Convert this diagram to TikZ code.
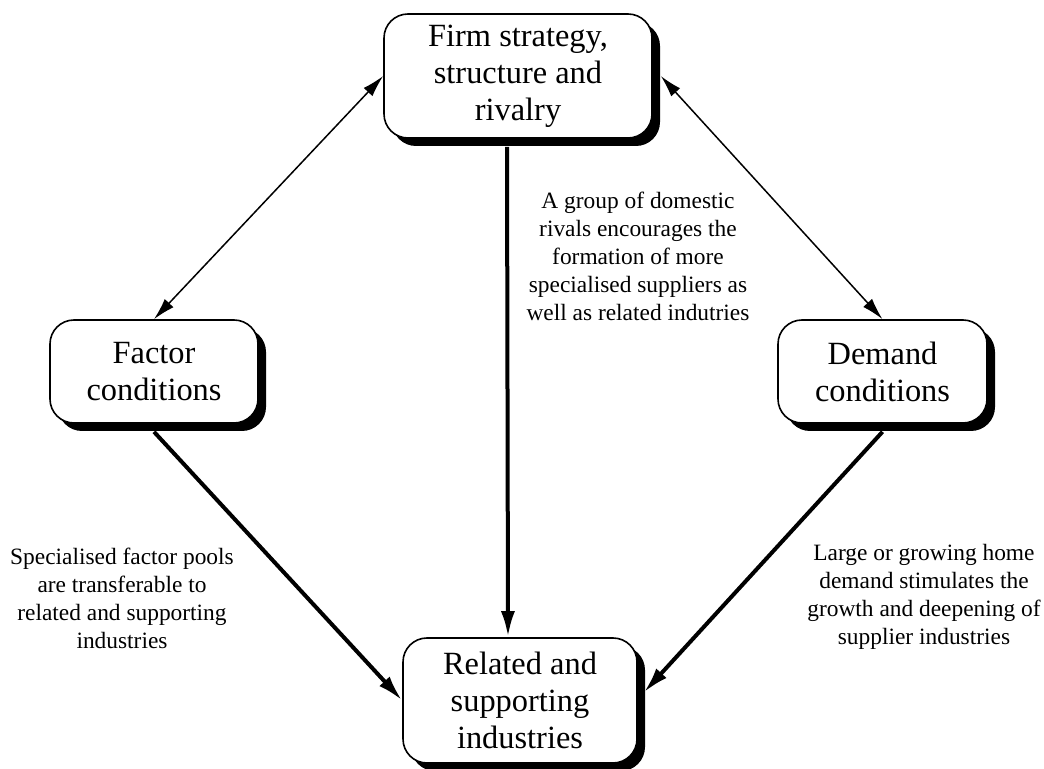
\documentclass[tikz,border=0pt]{standalone}
\usepackage{fontspec}
\setmainfont{Liberation Serif}
\usetikzlibrary{shadows,arrows.meta,calc}
\begin{document}
\begin{tikzpicture}[x=0.5pt,y=-0.5pt,
  boxnode/.style={draw=black, line width=0.8pt, fill=white, rounded corners=12pt,
    align=center, inner sep=2pt, font=\fontsize{16.2}{18.5}\selectfont,
    drop shadow={shadow xshift=4pt, shadow yshift=-4pt, fill=black, opacity=1}},
  note/.style={align=center, inner sep=0pt, font=\fontsize{11.7}{14}\selectfont},
  thinarrow/.style={line width=0.75pt, {Latex[length=11pt,width=6pt]}-{Latex[length=11pt,width=6pt]}},
  thickarrow/.style={line width=2pt, -{Latex[length=13pt,width=7pt]}}]
\useasboundingbox[fill=white] (0,0) rectangle (1044,769);
\node[boxnode, minimum width=134pt, minimum height=62pt] (top) at (518,76)
  {Firm strategy,\\structure and\\rivalry};
\node[boxnode, minimum width=104pt, minimum height=51.5pt] (factor) at (154,371.5)
  {Factor\\conditions};
\node[boxnode, minimum width=104.5pt, minimum height=51.5pt] (demand) at (882.5,371.5)
  {Demand\\conditions};
\node[boxnode, minimum width=117pt, minimum height=62.5pt] (bottom) at (520,700.5)
  {Related and\\supporting\\industries};
\node[note] (mid) at (638,256) {A group of domestic\\rivals encourages the\\formation of more\\specialised suppliers as\\well as related indutries};
\node[note] (left) at (122,598) {Specialised factor pools\\are transferable to\\related and supporting\\industries};
\node[note] (right) at (924,597) {Large or growing home\\demand stimulates the\\growth and deepening of\\supplier industries};
\draw[thinarrow] (top.west) -- (factor.north);
\draw[thinarrow] ([xshift=4pt]top.east) -- (demand.north);
\draw[thickarrow] ([xshift=-5.5pt,yshift=-4pt]top.south) -- ([xshift=-6pt]bottom.north);
\draw[thickarrow] ([yshift=-4pt]factor.south) -- (bottom.west);
\draw[thickarrow] ([yshift=-4pt]demand.south) -- ([xshift=3pt,yshift=4pt]bottom.east);
\end{tikzpicture}
\end{document}
